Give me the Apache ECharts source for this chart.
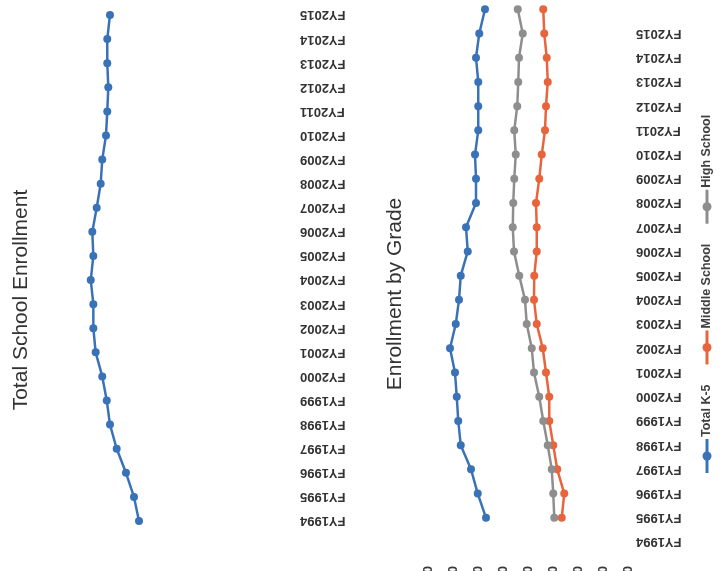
<!DOCTYPE html>
<html>
<head>
<meta charset="utf-8">
<script src="https://cdn.jsdelivr.net/npm/echarts@6/dist/echarts.min.js"></script>
<style>
html,body{margin:0;padding:0;background:#fff;}
#c{width:720px;height:571px;}
</style>
</head>
<body>
<div id="c"></div>
<script>
// ---- data ----
const fyCategories = ['FY1994','FY1995','FY1996','FY1997','FY1998','FY1999','FY2000','FY2001','FY2002','FY2003','FY2004','FY2005','FY2006','FY2007','FY2008','FY2009','FY2010','FY2011','FY2012','FY2013','FY2014','FY2015'];
const totalEnrollment = [11860,12250,12870,13590,14110,14360,14710,15220,15400,15400,15600,15400,15480,15140,14830,14710,14420,14320,14240,14320,14320,14110];

const gradeCategories = fyCategories.concat(['']);
const seriesNames = ['Total K-5','Middle School','High School'];
const totalK5 = [null,5680,6010,6280,6690,6790,6850,6920,7120,6890,6760,6690,6410,6480,6080,6080,6120,5990,5990,5990,6080,5950,5720];
const middleSchool = [null,2650,2550,2830,2990,3150,3150,3280,3410,3650,3760,3750,3650,3650,3680,3550,3450,3320,3280,3210,3250,3350,3390];
const highSchool = [null,2950,2990,3050,3210,3390,3550,3760,3850,4050,4120,4350,4560,4610,4590,4550,4490,4550,4430,4390,4360,4210,4410];
const gradeAxisTicks = {min:0, max:8000, interval:1000};
const titleLeft = 'Total School Enrollment';
const titleRight = 'Enrollment by Grade';

const colors = ['#3a72b8','#e8643c','#8e8e8e'];
const FONT = '"Liberation Sans", Arial, sans-serif';

const chart = echarts.init(document.getElementById('c'));

// legend layout (rotated, reading bottom to top)
const legendFont = 'bold 12.5px ' + FONT;
const cv = document.createElement('canvas').getContext('2d');
cv.font = legendFont;
const legendChildren = [];
let off = 0;
seriesNames.forEach((name, i) => {
  legendChildren.push({type:'line', shape:{x1:off, y1:0, x2:off+34, y2:0}, style:{stroke:colors[i], lineWidth:3}});
  legendChildren.push({type:'circle', shape:{cx:off+17, cy:0, r:4.5}, style:{fill:colors[i]}});
  legendChildren.push({type:'text', x:off+36, y:0, style:{text:name, font:legendFont, fill:'#404040', align:'left', verticalAlign:'middle', textAlign:'left', textVerticalAlign:'middle'}});
  off += 36 + cv.measureText(name).width + 20;
});

const titleFont = '21px ' + FONT;
const catLabel = {rotate:180, margin:8, interval:0, color:'#333333', fontWeight:'bold', fontSize:13, fontFamily:FONT};

chart.setOption({
  animation:false,
  backgroundColor:'#ffffff',
  grid:[
    {left:34, right:428, top:15, bottom:50, outerBoundsMode:'none', containLabel:false},
    {left:428, right:92, top:9.3, bottom:29, outerBoundsMode:'none', containLabel:false}
  ],
  xAxis:[
    {type:'value', gridIndex:0, inverse:true, min:0, max:20000,
     axisLabel:{show:false}, axisLine:{show:false}, axisTick:{show:false}, splitLine:{show:false}},
    {type:'value', gridIndex:1, inverse:true, min:gradeAxisTicks.min, max:gradeAxisTicks.max, interval:gradeAxisTicks.interval,
     axisLabel:{rotate:90, margin:24, fontSize:13, fontWeight:'bold', color:'#3a3a3a', fontFamily:FONT},
     axisLine:{show:false}, axisTick:{show:false}, splitLine:{show:false}}
  ],
  yAxis:[
    {type:'category', gridIndex:0, position:'right', boundaryGap:false, data:fyCategories,
     axisLabel:catLabel, axisLine:{show:false}, axisTick:{show:false}, splitLine:{show:false}},
    {type:'category', gridIndex:1, position:'right', boundaryGap:false, data:gradeCategories,
     axisLabel:catLabel, axisLine:{show:false}, axisTick:{show:false}, splitLine:{show:false}}
  ],
  series:[
    {name:'Total', type:'line', xAxisIndex:0, yAxisIndex:0, data:totalEnrollment,
     symbol:'circle', symbolSize:8, itemStyle:{color:colors[0]}, lineStyle:{color:colors[0], width:2.5}},
    {name:seriesNames[0], type:'line', xAxisIndex:1, yAxisIndex:1, data:totalK5,
     symbol:'circle', symbolSize:8, itemStyle:{color:colors[0]}, lineStyle:{color:colors[0], width:2.5}},
    {name:seriesNames[1], type:'line', xAxisIndex:1, yAxisIndex:1, data:middleSchool,
     symbol:'circle', symbolSize:8, itemStyle:{color:colors[1]}, lineStyle:{color:colors[1], width:2.5}},
    {name:seriesNames[2], type:'line', xAxisIndex:1, yAxisIndex:1, data:highSchool,
     symbol:'circle', symbolSize:8, itemStyle:{color:colors[2]}, lineStyle:{color:colors[2], width:2.5}}
  ],
  graphic:[
    {type:'text', x:21, y:300, rotation:Math.PI/2,
     style:{text:titleLeft, font:titleFont, fill:'#333333', align:'center', verticalAlign:'middle', textAlign:'center', textVerticalAlign:'middle'}},
    {type:'text', x:395, y:294, rotation:Math.PI/2,
     style:{text:titleRight, font:titleFont, fill:'#333333', align:'center', verticalAlign:'middle', textAlign:'center', textVerticalAlign:'middle'}},
    {type:'group', x:707, y:473, rotation:Math.PI/2, children:legendChildren}
  ]
});
</script>
</body>
</html>
